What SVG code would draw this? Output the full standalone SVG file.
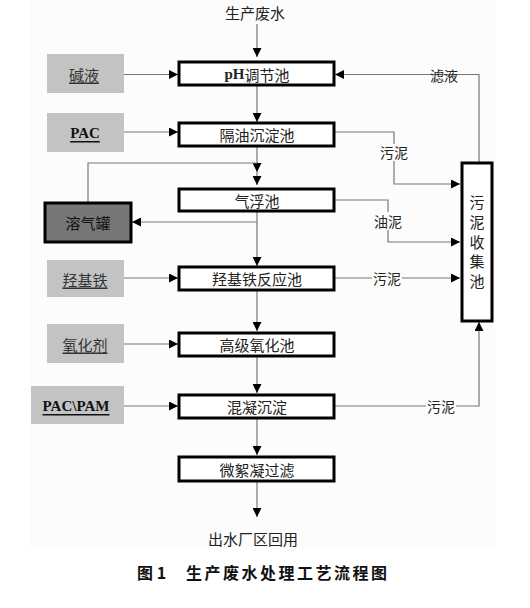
<svg xmlns="http://www.w3.org/2000/svg" width="530" height="608" viewBox="0 0 530 608">
<style>
.bg{fill:#fcfcfc}
.box{fill:#fff;stroke:#000;stroke-width:3}
.gbox{fill:#c3c3c3;stroke:none}
.dbox{fill:#777;stroke:#000;stroke-width:3}
.ln{fill:none;stroke:#777;stroke-width:1.2}
.t{font-family:"Noto Sans CJK SC","Liberation Sans",sans-serif;font-size:15px;fill:#222;text-anchor:middle;dominant-baseline:central}
.gt{font-family:"Noto Sans CJK SC","Liberation Sans",sans-serif;font-size:15px;fill:#333;text-anchor:middle;dominant-baseline:central;text-decoration:underline}
.bt{font-family:"Liberation Serif",serif;font-weight:bold;font-size:15px;fill:#111;text-anchor:middle;dominant-baseline:central;text-decoration:underline}
.lb{font-family:"Noto Sans CJK SC","Liberation Sans",sans-serif;font-size:14px;fill:#222;text-anchor:middle;dominant-baseline:central}
.cap{font-family:"Noto Sans CJK SC","Liberation Sans",sans-serif;font-size:16px;font-weight:bold;fill:#111}
</style>
<defs>
<marker id="arr" viewBox="0 0 10 10" refX="10" refY="5" markerWidth="9" markerHeight="9" markerUnits="userSpaceOnUse" orient="auto">
<path d="M0,0 L10,5 L0,10 z" fill="#000"/>
</marker>
</defs>
<rect class="bg" x="30" y="0" width="465" height="548"/>

<g id="connectors">
<line class="ln" x1="257" y1="24" x2="257" y2="57" marker-end="url(#arr)"/>
<line class="ln" x1="124" y1="74.5" x2="178" y2="74.5" marker-end="url(#arr)"/>
<polyline class="ln" points="479,162 479,74.5 335,74.5" marker-end="url(#arr)"/>
<line class="ln" x1="257" y1="86" x2="257" y2="122" marker-end="url(#arr)"/>
<line class="ln" x1="124" y1="132" x2="178" y2="132" marker-end="url(#arr)"/>
<polyline class="ln" points="335,132 394,132 394,144"/>
<polyline class="ln" points="394,161 394,184 460,184" marker-end="url(#arr)"/>
<line class="ln" x1="257" y1="147" x2="257" y2="172" marker-end="url(#arr)"/>
<line class="ln" x1="257" y1="172" x2="257" y2="185" marker-end="url(#arr)"/>
<polyline class="ln" points="88,202 88,163 257,163"/>
<line class="ln" x1="257" y1="212" x2="257" y2="266" marker-end="url(#arr)"/>
<line class="ln" x1="257" y1="222" x2="132" y2="222" marker-end="url(#arr)"/>
<polyline class="ln" points="335,200 388,200 388,212"/>
<polyline class="ln" points="388,230 388,242 460,242" marker-end="url(#arr)"/>
<line class="ln" x1="124" y1="278" x2="178" y2="278" marker-end="url(#arr)"/>
<line class="ln" x1="335" y1="278" x2="372" y2="278"/>
<line class="ln" x1="402" y1="278" x2="460" y2="278" marker-end="url(#arr)"/>
<line class="ln" x1="257" y1="291" x2="257" y2="331" marker-end="url(#arr)"/>
<line class="ln" x1="124" y1="344" x2="178" y2="344" marker-end="url(#arr)"/>
<line class="ln" x1="257" y1="357" x2="257" y2="393" marker-end="url(#arr)"/>
<line class="ln" x1="124" y1="406" x2="178" y2="406" marker-end="url(#arr)"/>
<line class="ln" x1="335" y1="406" x2="426" y2="406"/>
<polyline class="ln" points="456,406 479,406 479,322" marker-end="url(#arr)"/>
<line class="ln" x1="257" y1="419" x2="257" y2="455" marker-end="url(#arr)"/>
<line class="ln" x1="257" y1="482" x2="257" y2="517" marker-end="url(#arr)"/>
<text class="lb" x="444" y="74.5">滤液</text>
<text class="lb" x="394" y="152">污泥</text>
<text class="lb" x="388" y="221">油泥</text>
<text class="lb" x="387" y="278">污泥</text>
<text class="lb" x="441" y="406">污泥</text>
</g>

<g id="src"><text class="t" x="255" y="12">生产废水</text></g>
<g id="out"><text class="t" x="253" y="538">出水厂区回用</text></g>

<g id="ph"><rect class="box" x="179" y="62" width="155" height="23"/>
<text class="t" x="257" y="74"><tspan font-family="Liberation Serif" font-weight="bold">pH</tspan>调节池</text></g>
<g id="geyou"><rect class="box" x="179" y="123" width="155" height="23"/><text class="t" x="257" y="134">隔油沉淀池</text></g>
<g id="qifu"><rect class="box" x="179" y="189" width="155" height="22"/><text class="t" x="257" y="200">气浮池</text></g>
<g id="qjt"><rect class="box" x="179" y="267" width="155" height="23"/><text class="t" x="257" y="278">羟基铁反应池</text></g>
<g id="gjyh"><rect class="box" x="179" y="333" width="155" height="23"/><text class="t" x="257" y="344">高级氧化池</text></g>
<g id="hnct"><rect class="box" x="179" y="395" width="155" height="23"/><text class="t" x="257" y="406">混凝沉淀</text></g>
<g id="wxn"><rect class="box" x="179" y="457" width="155" height="24"/><text class="t" x="257" y="469">微絮凝过滤</text></g>

<g id="wnsj"><rect class="box" x="462" y="163" width="30" height="158"/>
<text class="t" x="477" y="201">污</text><text class="t" x="477" y="221">泥</text><text class="t" x="477" y="241">收</text><text class="t" x="477" y="260">集</text><text class="t" x="477" y="280">池</text></g>

<g id="jianye"><rect class="gbox" x="47" y="54" width="77" height="39"/><text class="gt" x="84" y="74">碱液</text></g>
<g id="pac"><rect class="gbox" x="47" y="113" width="77" height="39"/><text class="bt" x="85" y="133">PAC</text></g>
<g id="rqg"><rect class="dbox" x="45" y="203" width="86" height="39"/><text class="t" x="88" y="222" fill="#111" style="fill:#111">溶气罐</text></g>
<g id="qjtyao"><rect class="gbox" x="47" y="260" width="77" height="37"/><text class="gt" x="85" y="279">羟基铁</text></g>
<g id="yhj"><rect class="gbox" x="47" y="324" width="77" height="39"/><text class="gt" x="85" y="344">氧化剂</text></g>
<g id="pacpam"><rect class="gbox" x="31" y="386" width="93" height="38"/><text class="bt" x="76" y="406">PAC\PAM</text></g>

<g id="caption"><text class="cap" x="137" y="579">图 1</text><text class="cap" x="186" y="579" letter-spacing="2.5">生产废水处理工艺流程图</text></g>
</svg>
